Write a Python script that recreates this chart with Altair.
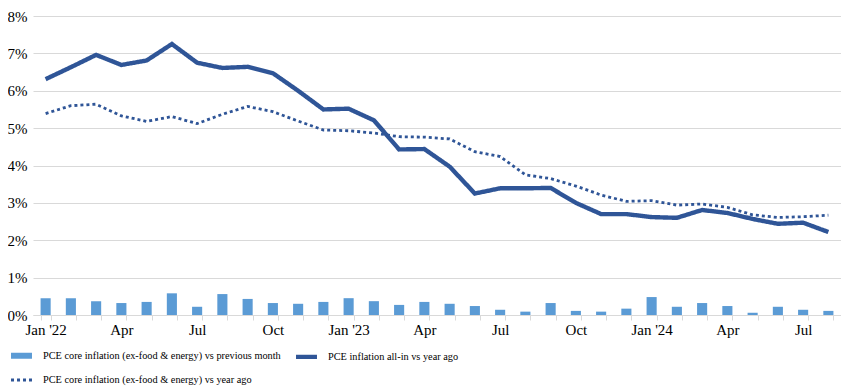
import json
import altair as alt
import pandas as pd

months = [f"{y}-{m:02d}" for y in (2022, 2023, 2024) for m in range(1, 13)][:32]

tick_labels = {
    "2022-01": "Jan '22", "2022-04": "Apr", "2022-07": "Jul", "2022-10": "Oct",
    "2023-01": "Jan '23", "2023-04": "Apr", "2023-07": "Jul", "2023-10": "Oct",
    "2024-01": "Jan '24", "2024-04": "Apr", "2024-07": "Jul",
}

core_mom = [0.45, 0.45, 0.37, 0.32, 0.35, 0.58, 0.22, 0.56, 0.43, 0.32, 0.30, 0.35,
            0.45, 0.37, 0.27, 0.35, 0.30, 0.24, 0.14, 0.09, 0.32, 0.11, 0.09, 0.17,
            0.48, 0.22, 0.32, 0.24, 0.06, 0.22, 0.14, 0.11]

headline_yoy = [6.31, 6.63, 6.96, 6.69, 6.81, 7.25, 6.75, 6.61, 6.64, 6.47, 6.00, 5.50,
                5.52, 5.21, 4.43, 4.44, 3.97, 3.25, 3.39, 3.39, 3.40, 3.00, 2.70, 2.70,
                2.62, 2.60, 2.81, 2.73, 2.57, 2.44, 2.47, 2.22]

core_yoy = [5.39, 5.60, 5.64, 5.33, 5.18, 5.31, 5.12, 5.37, 5.58, 5.44, 5.19, 4.95,
            4.93, 4.87, 4.77, 4.76, 4.71, 4.37, 4.24, 3.75, 3.65, 3.45, 3.21, 3.04,
            3.06, 2.94, 2.97, 2.88, 2.68, 2.61, 2.63, 2.67]

series_keys = ["a", "b", "c"]
series_names = {
    "a": "PCE core inflation (ex-food & energy) vs previous month",
    "b": "PCE inflation all-in vs year ago",
    "c": "PCE core inflation (ex-food & energy) vs year ago",
}

bar_df = pd.DataFrame({"m": months, "value": core_mom, "series": "a"})
line_df = pd.concat([
    pd.DataFrame({"m": months, "value": headline_yoy, "series": "b"}),
    pd.DataFrame({"m": months, "value": core_yoy, "series": "c"}),
])

FONT = "Liberation Serif"

x_label_expr = f"({json.dumps(tick_labels)})[datum.value] || ''"
legend_label_expr = f"({json.dumps(series_names)})[datum.value]"

x = alt.X("m:O", sort=months, title=None,
          scale=alt.Scale(paddingInner=0.6, paddingOuter=0.3),
          axis=alt.Axis(labelExpr=x_label_expr, labelAngle=0, tickBand="extent",
                        domainColor="#d9d9d9", tickColor="#d9d9d9", tickSize=5,
                        labelFont=FONT, labelFontSize=15, labelColor="#000000",
                        labelPadding=2, grid=False, labelOverlap=False))

y = alt.Y("value:Q", title=None,
          scale=alt.Scale(domain=[0, 8], nice=False),
          axis=alt.Axis(values=list(range(0, 9)), labelExpr="datum.value + '%'",
                        domain=False, ticks=False, gridColor="#d9d9d9",
                        labelFont=FONT, labelFontSize=15, labelColor="#000000",
                        labelPadding=6, labelOverlap=False))

bars = alt.Chart(bar_df).mark_bar(color="#5b9bd5").encode(x=x, y=y)

lines = alt.Chart(line_df).mark_line().encode(
    x=x,
    y=y,
    color=alt.Color("series:N", title=None,
                    scale=alt.Scale(domain=series_keys,
                                    range=["#5b9bd5", "#2f5597", "#2f5597"]),
                    legend=alt.Legend(orient="none", legendX=-20, legendY=331,
                                      direction="horizontal",
                                      labelExpr=legend_label_expr,
                                      columns=2, columnPadding=6, rowPadding=5,
                                      symbolType="M-2,0H2", symbolSize=110,
                                      labelFont=FONT, labelFontSize=10.3,
                                      labelColor="#000000", labelOffset=13,
                                      labelLimit=0, padding=0)),
    strokeDash=alt.StrokeDash("series:N", title=None,
                              scale=alt.Scale(domain=series_keys,
                                              range=[[1, 0], [1, 0], [3, 3]])),
    strokeWidth=alt.StrokeWidth("series:N", title=None,
                                scale=alt.Scale(domain=series_keys, range=[6, 2.8, 2.8])),
    detail="series:N",
)

chart = alt.layer(bars, lines).properties(
    width=808, height=299,
    autosize=alt.AutoSizeParams(type="none"),
    padding={"left": 25, "top": 8, "right": 0, "bottom": 72},
).configure_view(stroke=None)

chart.save("out.html", embed_options={"renderer": "svg", "actions": False})
